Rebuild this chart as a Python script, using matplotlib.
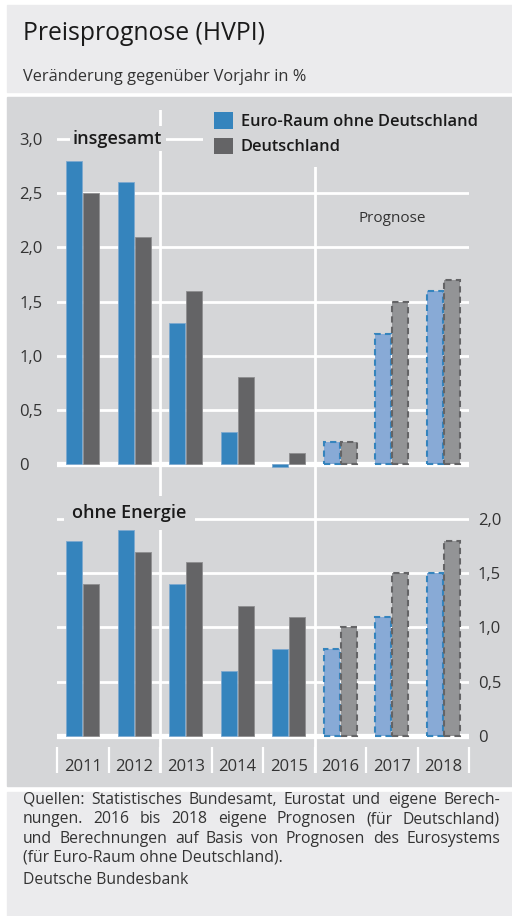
import numpy as np
import matplotlib
matplotlib.use("Agg")
import matplotlib.pyplot as plt
from matplotlib.patches import Rectangle, Patch

plt.rcParams['font.family'] = ['Open Sans', 'DejaVu Sans']

# Daten
years = ['2011', '2012', '2013', '2014', '2015', '2016', '2017', '2018']
n_actual = 5  # ab 2016 Prognose
euro_total = [2.8, 2.6, 1.3, 0.3, -0.03, 0.2, 1.2, 1.6]
de_total = [2.5, 2.1, 1.6, 0.8, 0.1, 0.2, 1.5, 1.7]
euro_core = [1.8, 1.9, 1.4, 0.6, 0.8, 0.8, 1.1, 1.5]
de_core = [1.4, 1.7, 1.6, 1.2, 1.1, 1.0, 1.5, 1.8]
ticks_total = [0, 0.5, 1.0, 1.5, 2.0, 2.5, 3.0]
ticks_core = [0, 0.5, 1.0, 1.5, 2.0]

BLUE = '#3584bd'
BLUE_F = '#88aad6'
GREY = '#646466'
GREY_F = '#939496'
PANEL = '#d5d6d8'
LIGHT = '#ebebed'
TXT = '#333333'

W, H = 512, 916
fig = plt.figure(figsize=(W / 100, H / 100), dpi=100)


def px(x, y):
    # Pixel (von oben) -> Figurkoordinaten
    return x / W, 1 - y / H


def panel(y0, y1, color):
    fig.patches.append(Rectangle((7 / W, 1 - y1 / H), 1 - 7 / W, (y1 - y0) / H,
                                 transform=fig.transFigure, color=color, zorder=-5))


panel(5, 92, LIGHT)
panel(97, 786, PANEL)
panel(792, 916, LIGHT)

fig.text(*px(23, 33), 'Preisprognose (HVPI)', fontsize=17.8, color='#1a1a1a', va='center')
fig.text(*px(23, 77), 'Veränderung gegenüber Vorjahr in %', fontsize=11.8, color=TXT, va='center')

x = np.arange(len(years)) + 0.5
bw = 0.31
off = 0.165


def draw_bars(ax, euro, de):
    euro = np.array(euro)
    de = np.array(de)
    a = slice(0, n_actual)
    f = slice(n_actual, None)
    ax.bar(x[a] - off, euro[a], bw, color=BLUE, edgecolor='#7ea9cf', linewidth=0.6, zorder=3)
    ax.bar(x[a] + off, de[a], bw, color=GREY, edgecolor='#8e8e90', linewidth=0.6, zorder=3)
    ax.bar(x[f] - off, euro[f], bw, color=BLUE_F, edgecolor=BLUE, linewidth=1.5,
           linestyle=(0, (3, 2)), zorder=3)
    ax.bar(x[f] + off, de[f], bw, color=GREY_F, edgecolor=GREY, linewidth=1.5,
           linestyle=(0, (3, 2)), zorder=3)


def style(ax, ticks):
    ax.set_facecolor('none')
    for s in ax.spines.values():
        s.set_visible(False)
    ax.set_xlim(0, len(years))
    ax.set_yticks(ticks)
    ax.set_yticklabels([('%.1f' % t).replace('.', ',') if t else '0' for t in ticks])
    for t in ticks:
        if t == 0:
            ax.axhline(t, color='white', lw=3.8, zorder=2)
        else:
            ax.axhline(t, color='white', lw=2, zorder=1)
    ax.axvline(2, color='white', lw=2, zorder=1)
    ax.axvline(5, color='white', lw=2, zorder=1)


# oben: insgesamt
ax1 = fig.add_axes([57 / W, 1 - 495 / H, 412 / W, 385 / H])
draw_bars(ax1, euro_total, de_total)
style(ax1, ticks_total)
ax1.set_ylim(-0.286, 3.268)
ax1.set_xticks([])
ax1.tick_params(axis='y', length=0, pad=27, labelsize=12, labelcolor=TXT)
for lab in ax1.get_yticklabels():
    lab.set_horizontalalignment('left')
ax1.text(0.039, 0.925, 'insgesamt', transform=ax1.transAxes, fontsize=13,
         fontweight='semibold', color='#1a1a1a', va='center', ha='left', zorder=5,
         bbox=dict(facecolor=PANEL, edgecolor='none', pad=2.5))
ax1.text(0.8125, 0.717, 'Prognose', transform=ax1.transAxes, fontsize=11,
         color=TXT, ha='center', va='center')

handles = [Patch(facecolor=BLUE, edgecolor='none'), Patch(facecolor=GREY, edgecolor='none')]
leg = ax1.legend(handles, ['Euro-Raum ohne Deutschland', 'Deutschland'],
                 loc='upper left', bbox_to_anchor=px(203, 101), bbox_transform=fig.transFigure,
                 borderaxespad=0, borderpad=0.7, frameon=True, facecolor=PANEL, edgecolor='none',
                 framealpha=1, fancybox=False, handlelength=1.15, handleheight=1.15,
                 handletextpad=0.45, labelspacing=0.45, prop=dict(size=11.8, weight='semibold'))
for t in leg.get_texts():
    t.set_color('#1a1a1a')
leg.set_zorder(6)

# unten: ohne Energie
ax2 = fig.add_axes([57 / W, 1 - 773 / H, 412 / W, 278 / H])
draw_bars(ax2, euro_core, de_core)
style(ax2, ticks_core)
ax2.set_ylim(-0.341, 2.221)
ax2.yaxis.tick_right()
ax2.tick_params(axis='y', length=0, pad=6.5, labelsize=12, labelcolor=TXT)
ax2.set_xticks(x)
ax2.set_xticklabels(years)
ax2.set_xticks(np.arange(len(years) + 1), minor=True)
ax2.tick_params(axis='x', which='major', length=0, pad=-10, labelsize=12, labelcolor=TXT)
ax2.tick_params(axis='x', which='minor', direction='in', length=19, width=1.6, color='white')
for lab in ax2.get_xticklabels():
    lab.set_verticalalignment('top')
ax2.text(0.036, 0.935, 'ohne Energie', transform=ax2.transAxes, fontsize=13,
         fontweight='semibold', color='#1a1a1a', va='center', ha='left', zorder=5,
         bbox=dict(facecolor=PANEL, edgecolor='none', pad=6))

# Fußnote (Blocksatz)
foot = ['Quellen: Statistisches Bundesamt, Eurostat und eigene Berech-',
        'nungen. 2016 bis 2018 eigene Prognosen (für Deutschland)',
        'und Berechnungen auf Basis von Prognosen des Eurosystems',
        '(für Euro-Raum ohne Deutschland).']
foot_y = [800, 819, 839, 858]
fs = 11.3
r = fig.canvas.get_renderer()
for i, line in enumerate(foot):
    words = line.split(' ')
    if i == len(foot) - 1:
        fig.text(*px(23, foot_y[i]), line, fontsize=fs, color=TXT, va='center')
        continue
    arts = [fig.text(0, 0, w, fontsize=fs, color=TXT, va='center') for w in words]
    widths = [a.get_window_extent(r).width for a in arts]
    gap = (500 - 23 - sum(widths)) / (len(words) - 1)
    xx = 23
    for a, w in zip(arts, widths):
        a.set_position(px(xx, foot_y[i]))
        xx += w + gap
fig.text(*px(23, 880), 'Deutsche Bundesbank', fontsize=fs, color=TXT, va='center')

fig.savefig('out.png', dpi=100)
